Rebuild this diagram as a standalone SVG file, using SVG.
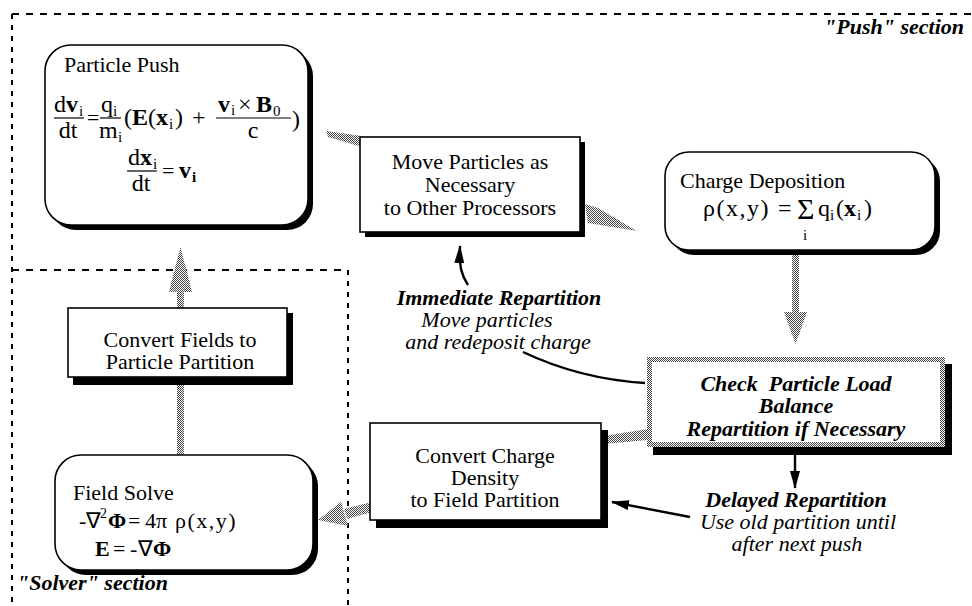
<svg xmlns="http://www.w3.org/2000/svg" width="972" height="606" viewBox="0 0 972 606">
  <style>
    .t { font-family: "Liberation Serif", "Times New Roman", serif; font-size: 22px; fill: #000; }
    .m { font-size: 24px; }
    .sub { font-size: 15px; }
    .sup { font-size: 14px; }
    .sig { font-size: 30px; }
    .c { text-anchor: middle; }
    .bi { font-weight: bold; font-style: italic; }
    .it { font-style: italic; }
    .b { font-weight: bold; }
    .box { fill: #fff; stroke: #000; stroke-width: 1.6; }
    .shadow { fill: #000; }
    .dash-h { fill: none; stroke: #000; stroke-width: 2; stroke-dasharray: 7 7; }
    .dash-v { fill: none; stroke: #000; stroke-width: 2; stroke-dasharray: 5 6; }
    .flow { fill: url(#dots); }
    .note { fill: none; stroke: #000; stroke-width: 2.4; }
    .bar { stroke: #000; stroke-width: 1.2; }
  </style>
  <defs>
    <pattern id="dots" width="2" height="2" patternUnits="userSpaceOnUse">
      <rect width="2" height="2" fill="#fff"/>
      <rect width="1" height="1" fill="#444"/>
      <rect x="1" y="1" width="1" height="1" fill="#444"/>
    </pattern>
    <marker id="ah" viewBox="0 0 18 10" refX="17" refY="5" markerWidth="18" markerHeight="10" markerUnits="userSpaceOnUse" orient="auto">
      <path d="M0,0 L18,5 L0,10 z" fill="#000"/>
    </marker>
  </defs>
  <rect width="972" height="606" fill="#fff"/>

  <!-- section boundaries -->
  <g id="sections">
    <line class="dash-h" x1="12" y1="14" x2="972" y2="14"/>
    <line class="dash-v" x1="12" y1="14" x2="12" y2="606"/>
    <line class="dash-h" x1="12" y1="270" x2="348" y2="270"/>
    <line class="dash-v" x1="348" y1="270" x2="348" y2="606"/>
    <text class="t bi" x="964" y="34" text-anchor="end">"Push" section</text>
    <text class="t bi" x="17" y="590">"Solver" section</text>
  </g>

  <!-- flow arrows (stippled) -->
  <g id="connectors">
    <polygon class="flow" points="326,131 362,136 362,147 328,137"/>
    <polygon class="flow" points="585,204 598,208 637,231 588,223"/>
    <rect class="flow" x="792" y="252" width="7" height="62"/>
    <polygon class="flow" points="795.5,344 784,312 807,312"/>
    <polygon class="flow" points="604,436 648,429 648,440 604,444"/>
    <polygon class="flow" points="372,502 372,512 347,519 344,509"/>
    <polygon class="flow" points="318,520 341,502 348,526"/>
    <rect class="flow" x="177" y="383" width="7" height="73"/>
    <rect class="flow" x="177" y="290" width="7" height="19"/>
    <polygon class="flow" points="180.5,247 192,292 169,292"/>

    <!-- repartition notes -->
    <path class="note" d="M468,285 C462,276 459,268 460,246" marker-end="url(#ah)"/>
    <path class="note" d="M645,383 Q580,379 523,352"/>
    <path class="note" d="M795,455 L795,488" marker-end="url(#ah)"/>
    <path class="note" d="M690,517 L612,502" marker-end="url(#ah)"/>
  </g>

  <!-- Particle Push -->
  <g id="particle-push">
    <rect class="shadow" x="50" y="50" width="263" height="180" rx="26"/>
    <rect class="box" x="45" y="45" width="263" height="180" rx="26"/>
    <text class="t" x="64" y="72">Particle Push</text>
    <!-- dv_i/dt -->
    <text class="t m" x="54" y="112">d<tspan class="b">v</tspan></text>
    <text class="t sub" x="79" y="116">i</text>
    <line class="bar" x1="54" y1="118" x2="84" y2="118"/>
    <text class="t m c" x="68" y="138">dt</text>
    <text class="t" x="87" y="125">=</text>
    <!-- q_i/m_i -->
    <text class="t m" x="101" y="112">q</text>
    <text class="t sub" x="113" y="116">i</text>
    <line class="bar" x1="100" y1="118" x2="121" y2="118"/>
    <text class="t m" x="99" y="138">m</text>
    <text class="t sub" x="118" y="142">i</text>
    <!-- (E(x_i) + -->
    <text class="t m" x="124" y="125">(<tspan class="b">E</tspan>(<tspan class="b">x</tspan></text>
    <text class="t sub" x="169" y="129">i</text>
    <text class="t m" x="175" y="125">)</text>
    <text class="t m" x="192" y="125">+</text>
    <!-- v_i x B_0 / c -->
    <text class="t m b" x="218" y="112">v</text>
    <text class="t sub" x="231" y="115">i</text>
    <text class="t m" x="238" y="112">×</text>
    <text class="t m b" x="256" y="112">B</text>
    <text class="t sub" x="273" y="116">0</text>
    <line class="bar" x1="216" y1="118" x2="291" y2="118"/>
    <text class="t m c" x="253" y="138">c</text>
    <text class="t m" x="292" y="127">)</text>
    <!-- dx_i/dt = v_i -->
    <text class="t m" x="128" y="165">d<tspan class="b">x</tspan></text>
    <text class="t sub" x="153" y="169">i</text>
    <line class="bar" x1="127" y1="171" x2="157" y2="171"/>
    <text class="t m c" x="141" y="191">dt</text>
    <text class="t" x="162" y="178">=</text>
    <text class="t m b" x="179" y="178">v</text>
    <text class="t sub b" x="192" y="182">i</text>
  </g>

  <!-- Move Particles -->
  <g id="move-particles">
    <rect class="shadow" x="365" y="142" width="220" height="95"/>
    <rect class="box" x="360" y="137" width="220" height="95"/>
    <text class="t c" x="470" y="169">Move Particles as</text>
    <text class="t c" x="470" y="192">Necessary</text>
    <text class="t c" x="470" y="215">to Other Processors</text>
  </g>

  <!-- Charge Deposition -->
  <g id="charge-deposition">
    <rect class="shadow" x="670" y="157" width="270" height="98" rx="24"/>
    <rect class="box" x="665" y="152" width="270" height="98" rx="24"/>
    <text class="t" x="680" y="188">Charge Deposition</text>
    <text class="t m" x="703" y="216" letter-spacing="1.5">ρ(x,y)</text>
    <text class="t m" x="778" y="216">=</text>
    <text class="t sig" x="797" y="219">Σ</text>
    <text class="t sub" x="803" y="240">i</text>
    <text class="t m" x="818" y="216">q</text>
    <text class="t sub" x="830" y="220">i</text>
    <text class="t m" x="836" y="216">(<tspan class="b">x</tspan></text>
    <text class="t sub" x="857" y="220">i</text>
    <text class="t m" x="864" y="216">)</text>
  </g>

  <!-- Check Particle Load Balance -->
  <g id="check-balance">
    <rect class="shadow" x="653" y="364" width="299" height="91"/>
    <rect x="647" y="357" width="298" height="90" fill="#fff"/>
    <rect x="649.5" y="359.5" width="293" height="85" fill="none" stroke="url(#dots)" stroke-width="5"/>
    <text class="t c bi" x="796" y="391" xml:space="preserve">Check  Particle Load</text>
    <text class="t c bi" x="796" y="413">Balance</text>
    <text class="t c bi" x="796" y="436">Repartition if Necessary</text>
  </g>

  <!-- Convert Charge Density -->
  <g id="convert-charge">
    <rect class="shadow" x="376" y="430" width="232" height="98"/>
    <rect class="box" x="370" y="423" width="231" height="97"/>
    <text class="t c" x="485" y="463">Convert Charge</text>
    <text class="t c" x="485" y="485">Density</text>
    <text class="t c" x="485" y="507">to Field Partition</text>
  </g>

  <!-- Convert Fields -->
  <g id="convert-fields">
    <rect class="shadow" x="73" y="313" width="220" height="72"/>
    <rect class="box" x="68" y="308" width="219" height="69"/>
    <text class="t c" x="180" y="347">Convert Fields to</text>
    <text class="t c" x="180" y="369">Particle Partition</text>
  </g>

  <!-- Field Solve -->
  <g id="field-solve">
    <rect class="shadow" x="60" y="460" width="258" height="115" rx="26"/>
    <rect class="box" x="55" y="455" width="258" height="115" rx="26"/>
    <text class="t" x="73" y="500">Field Solve</text>
    <text class="t" x="79" y="528">-∇</text>
    <text class="t sup" x="100" y="518">2</text>
    <text class="t b" x="108" y="528">Φ</text>
    <text class="t" x="128" y="528">=</text>
    <text class="t" x="145" y="528">4π</text>
    <text class="t" x="175" y="528" letter-spacing="1.5">ρ(x,y)</text>
    <text class="t b" x="95" y="556">E</text>
    <text class="t" x="113" y="556">=</text>
    <text class="t" x="130" y="556">-</text>
    <text class="t" x="138" y="556">∇<tspan class="b">Φ</tspan></text>
  </g>

  <!-- repartition labels -->
  <g id="immediate-label">
    <text class="t c bi" x="499" y="305">Immediate Repartition</text>
    <text class="t c it" x="487" y="327">Move particles</text>
    <text class="t c it" x="498" y="349">and redeposit charge</text>
  </g>
  <g id="delayed-label">
    <text class="t c bi" x="796" y="507">Delayed Repartition</text>
    <text class="t c it" x="798" y="529">Use old partition until</text>
    <text class="t c it" x="797" y="551">after next push</text>
  </g>
</svg>
